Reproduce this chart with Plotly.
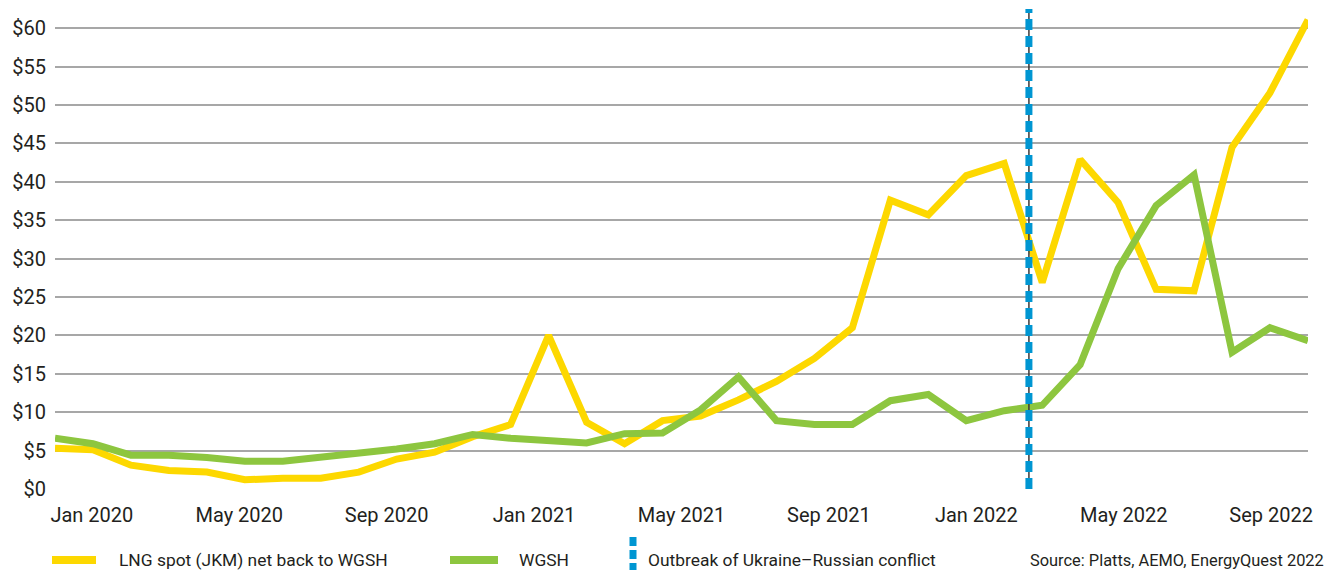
import plotly.graph_objects as go

# ---------------- data (monthly) ----------------
LNG_JKM = [5.3, 5.1, 3.1, 2.4, 2.2, 1.2, 1.4, 1.4, 2.2, 3.9, 4.8, 6.8,
           8.4, 20.0, 8.7, 5.9, 8.9, 9.5, 11.6, 14.0, 17.0, 21.0, 37.6, 35.7,
           40.8, 42.4, 26.9, 42.9, 37.3, 26.0, 25.8, 44.5, 51.6, 61.1]
WGSH = [6.6, 5.9, 4.4, 4.4, 4.1, 3.6, 3.6, 4.1, 4.7, 5.2, 5.9, 7.1,
        6.6, 6.3, 6.0, 7.2, 7.3, 10.3, 14.6, 8.9, 8.4, 8.4, 11.5, 12.3,
        8.9, 10.2, 10.9, 16.2, 28.7, 36.9, 40.9, 17.8, 21.0, 19.3]
MONTH_INDEX = list(range(len(LNG_JKM)))

TICK_LABELS = ["Jan 2020", "May 2020", "Sep 2020", "Jan 2021", "May 2021",
               "Sep 2021", "Jan 2022", "May 2022", "Sep 2022"]
TICK_MONTHS = [0, 4, 8, 12, 16, 20, 24, 28, 32]   # months after Jan 2020
Y_TICKS = [0, 5, 10, 15, 20, 25, 30, 35, 40, 45, 50, 55, 60]
Y_TICK_LABELS = ["$" + str(v) for v in Y_TICKS]
CONFLICT_X = 25.65   # outbreak of the conflict, in the data month index

SERIES_NAMES = ["LNG spot (JKM) net back to WGSH", "WGSH"]
CONFLICT_NAME = "Outbreak of Ukraine\u2013Russian conflict"
SOURCE = "Source: Platts, AEMO, EnergyQuest 2022"

# ---------------- style ----------------
YELLOW = "#FDD800"
GREEN = "#8DC63F"
BLUE = "#0096D2"
FONT = "Roboto, Liberation Sans, sans-serif"
TEXT = "#231F20"

W, H = 1337, 570
ML, MR, MT, MB = 55, 29, 9, 81
PW, PH = W - ML - MR, H - MT - MB


def px_x(px):
    return (px - ML) / PW


def px_y(py):
    return (H - MB - py) / PH


fig = go.Figure()
# invisible helper so the month-label axis (x2) gets drawn
fig.add_trace(go.Scatter(x=[TICK_MONTHS[0], TICK_MONTHS[-1]], y=[None, None],
                         xaxis="x2", yaxis="y", mode="lines", showlegend=False,
                         hoverinfo="skip"))
fig.add_trace(go.Scatter(x=MONTH_INDEX, y=LNG_JKM, mode="lines", name=SERIES_NAMES[0],
                         line=dict(color=YELLOW, width=7), showlegend=False,
                         hoverinfo="y"))
fig.add_trace(go.Scatter(x=MONTH_INDEX, y=WGSH, mode="lines", name=SERIES_NAMES[1],
                         line=dict(color=GREEN, width=7), showlegend=False,
                         hoverinfo="y"))

shapes = []
# vertical conflict marker: thin dark core + blue dotted overlay
shapes.append(dict(type="line", xref="x", yref="paper", x0=CONFLICT_X, x1=CONFLICT_X,
                   y0=0, y1=1.0, line=dict(color="#3a3a3a", width=1.5)))
shapes.append(dict(type="line", xref="x", yref="paper", x0=CONFLICT_X, x1=CONFLICT_X,
                   y0=0, y1=1.0, line=dict(color=BLUE, width=7, dash="11px,6px")))

# manual legend
ly = px_y(560)
shapes.append(dict(type="line", xref="paper", yref="paper", x0=px_x(52), x1=px_x(96),
                   y0=ly, y1=ly, line=dict(color=YELLOW, width=8)))
shapes.append(dict(type="line", xref="paper", yref="paper", x0=px_x(450), x1=px_x(498),
                   y0=ly, y1=ly, line=dict(color=GREEN, width=8)))
shapes.append(dict(type="line", xref="paper", yref="paper", x0=px_x(633), x1=px_x(633),
                   y0=px_y(537), y1=px_y(575), line=dict(color=BLUE, width=7, dash="9px,4px")))

annotations = [
    dict(text=SERIES_NAMES[0], x=px_x(117), y=ly, xanchor="left", yanchor="middle"),
    dict(text=SERIES_NAMES[1], x=px_x(517), y=ly, xanchor="left", yanchor="middle"),
    dict(text=CONFLICT_NAME, x=px_x(646), y=ly, xanchor="left", yanchor="middle"),
]
for a in annotations:
    a.update(xref="paper", yref="paper", showarrow=False,
             font=dict(family=FONT, size=17.4, color=TEXT))
annotations.append(dict(text=SOURCE, x=px_x(1326), y=ly, xref="paper", yref="paper",
                        xanchor="right", yanchor="middle", showarrow=False,
                        font=dict(family=FONT, size=16.4, color=TEXT)))

fig.update_layout(
    width=W, height=H,
    margin=dict(l=ML, r=MR, t=MT, b=MB, pad=0),
    paper_bgcolor="white", plot_bgcolor="white",
    font=dict(family=FONT, color=TEXT),
    showlegend=False,
    xaxis=dict(range=[0, len(MONTH_INDEX) - 1], showticklabels=False, showgrid=False,
               zeroline=False, showline=False, ticks=""),
    xaxis2=dict(overlaying="x", anchor="y", side="bottom", range=[-1, 33],
                tickmode="array", tickvals=TICK_MONTHS, ticktext=TICK_LABELS,
                showgrid=False, zeroline=False, showline=False, ticks="",
                ticklabelstandoff=12,
                tickfont=dict(family=FONT, size=20, color=TEXT)),
    yaxis=dict(range=[0, 62.5], tickmode="array", tickvals=Y_TICKS, ticktext=Y_TICK_LABELS,
               showgrid=True, gridcolor="#A7A7A7", gridwidth=1.5,
               zeroline=False, showline=False, ticks="", ticklabelstandoff=8,
               tickfont=dict(family=FONT, size=20, color=TEXT)),
    shapes=shapes,
    annotations=annotations,
)

fig.write_html("out.html")
